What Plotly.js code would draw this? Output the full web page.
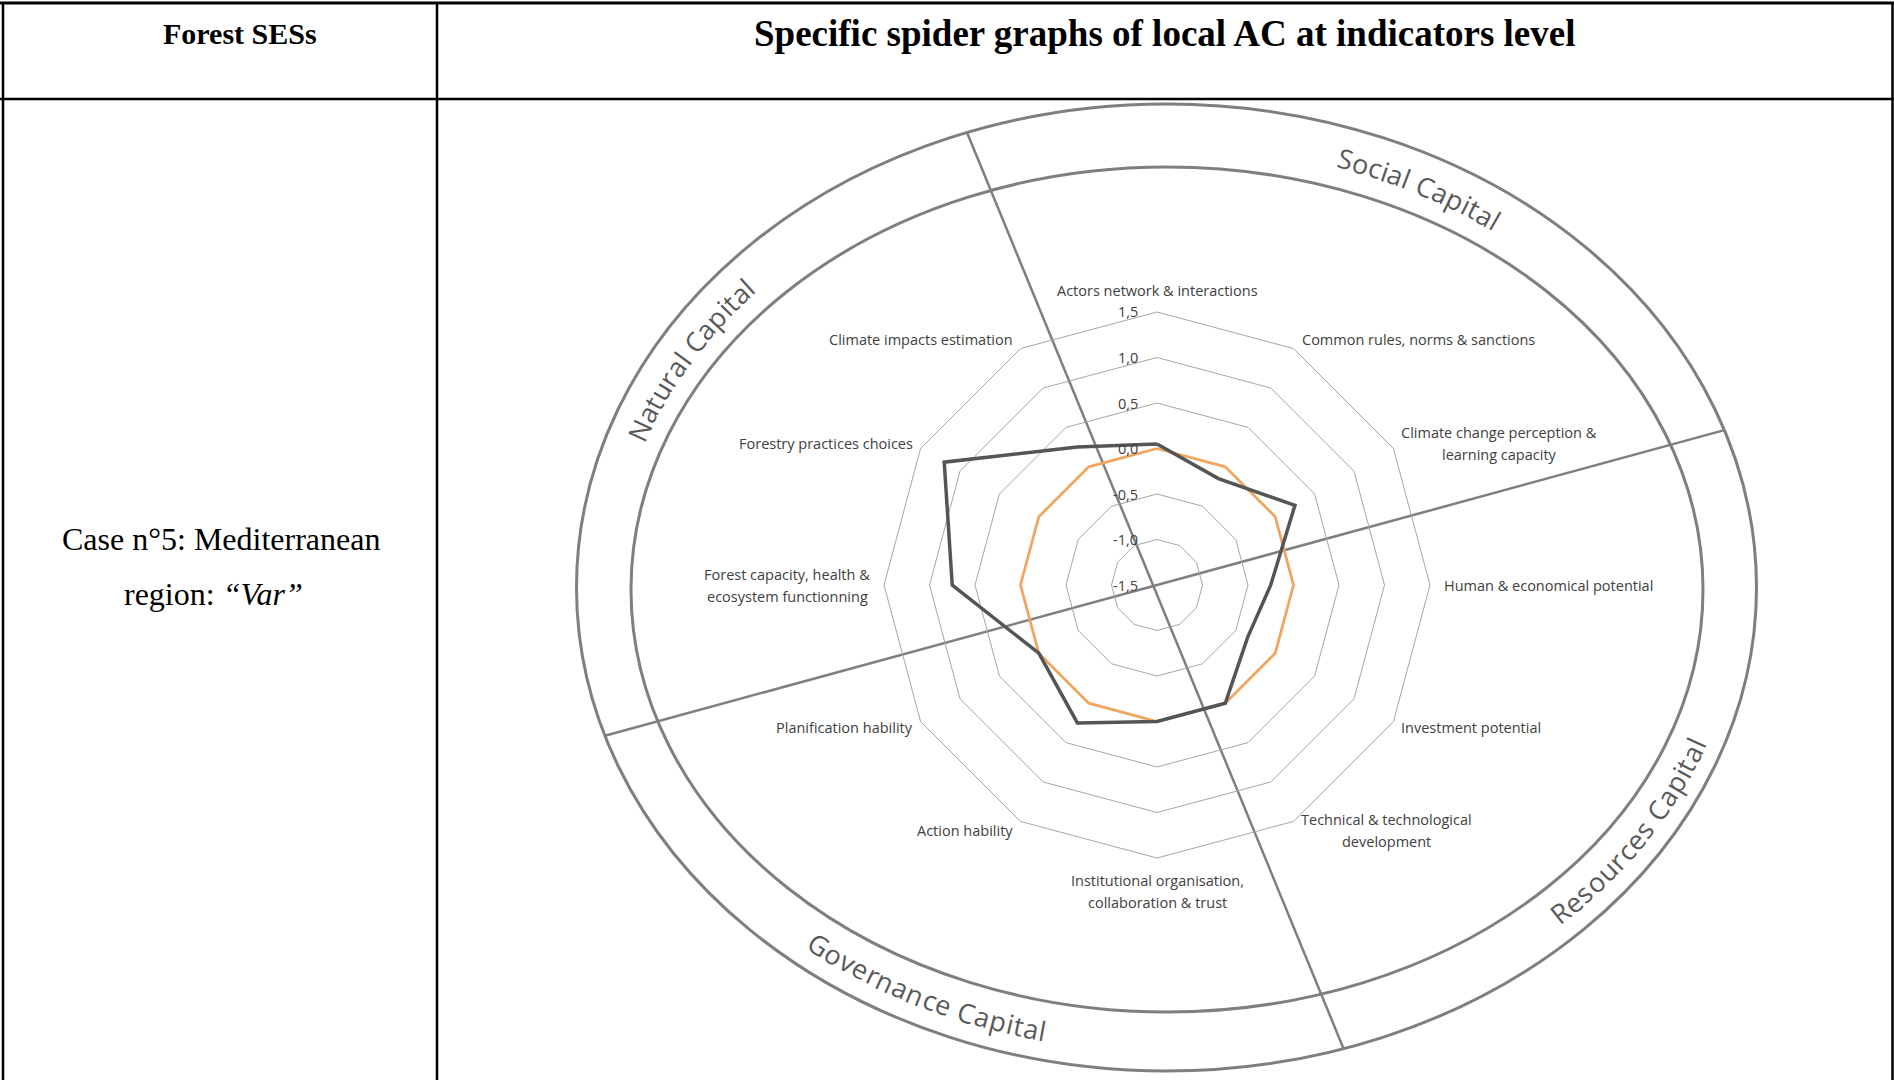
<!DOCTYPE html>
<html><head><meta charset="utf-8">
<script src="https://cdn.plot.ly/plotly-3.0.1.min.js"></script>
<style>html,body{margin:0;padding:0;background:#fff;overflow:hidden}</style>
</head><body><div id="chart" style="width:1894px;height:1080px"></div>
<script>
// ---------------- DATA ----------------
const categories = ["Actors network & interactions","Common rules, norms & sanctions","Climate change perception & learning capacity","Human & economical potential","Investment potential","Technical & technological development","Institutional organisation, collaboration & trust","Action hability","Planification hability","Forest capacity, health & ecosystem functionning","Forestry practices choices","Climate impacts estimation"];
const categoryLines = [["Actors network & interactions"],["Common rules, norms & sanctions"],["Climate change perception &","learning capacity"],["Human & economical potential"],["Investment potential"],["Technical & technological","development"],["Institutional organisation,","collaboration & trust"],["Action hability"],["Planification hability"],["Forest capacity, health &","ecosystem functionning"],["Forestry practices choices"],["Climate impacts estimation"]];
const localAC = [0.05,-0.15,0.25,-0.25,-0.35,0.0,0.0,0.25,0.0,0.75,1.2,0.25];
const referenceAC = [0,0,0,0,0,0,0,0,0,0,0,0];
const radialRange = [-1.5, 1.5];
const radialTicks = [-1.5,-1,-0.5,0,0.5,1,1.5];
const radialTickText = ["-1,5","-1,0","-0,5","0,0","0,5","1,0","1,5"];
const capitals = ["Social Capital","Natural Capital","Resources Capital","Governance Capital"];
const headers = ["Forest SESs","Specific spider graphs of local AC at indicators level"];
const caseLines = ["Case n°5: Mediterranean","region: <i>“Var”</i>"];

// ---------------- GEOMETRY (layout only) ----------------
const W = 1894, H = 1080;
const X = px => px / W, Y = py => 1 - py / H;
const C = {x:1157, y:585}, R = 273;
const outerE = {cx:1166.5, cy:587.5, a:590, b:483.5};
const innerE = {cx:1167, cy:589.5, a:536, b:422.5};
const midE = {cx:(outerE.cx+innerE.cx)/2, cy:(outerE.cy+innerE.cy)/2, a:(outerE.a+innerE.a)/2, b:(outerE.b+innerE.b)/2};
const capitalPlacement = [{t0:63.2, dir:-1},{t0:149, dir:-1},{t0:-33.4, dir:1},{t0:-115.6, dir:1}];
const dividers = [{ox:-4, d:[0.411,1]},{ox:0, d:[1,-0.273]}];

const canvas = document.createElement('canvas');
const ctx = canvas.getContext('2d');
function measure(txt, font){ ctx.font = font; return ctx.measureText(txt).width; }

const shapes = [];
const annotations = [];
const grey = '#7f7f7f';

// table borders
const tbl = {left:3, right:1892.5, top:3, mid:99, col:437};
shapes.push({type:'line', xref:'paper', yref:'paper', x0:X(0), x1:X(W), y0:Y(tbl.top), y1:Y(tbl.top), line:{color:'#000', width:3}});
shapes.push({type:'line', xref:'paper', yref:'paper', x0:X(0), x1:X(W), y0:Y(tbl.mid), y1:Y(tbl.mid), line:{color:'#000', width:2.5}});
shapes.push({type:'line', xref:'paper', yref:'paper', x0:X(tbl.left), x1:X(tbl.left), y0:Y(tbl.top), y1:Y(H), line:{color:'#000', width:2.5}});
shapes.push({type:'line', xref:'paper', yref:'paper', x0:X(tbl.col), x1:X(tbl.col), y0:Y(tbl.top), y1:Y(H), line:{color:'#000', width:2.5}});
shapes.push({type:'line', xref:'paper', yref:'paper', x0:X(tbl.right), x1:X(tbl.right), y0:Y(tbl.top), y1:Y(H), line:{color:'#000', width:2.5}});

// ellipses
[outerE, innerE].forEach(e => shapes.push({type:'circle', xref:'paper', yref:'paper', layer:'below',
  x0:X(e.cx-e.a), x1:X(e.cx+e.a), y0:Y(e.cy+e.b), y1:Y(e.cy-e.b), line:{color:grey, width:3}}));

// divider lines through (about) the spider centre, ending on the outer ellipse
dividers.forEach(dv => {
  const d = dv.d, sx = C.x + dv.ox, sy = C.y;
  const px = sx-outerE.cx, py = sy-outerE.cy, a2 = outerE.a*outerE.a, b2 = outerE.b*outerE.b;
  const A = d[0]*d[0]/a2 + d[1]*d[1]/b2;
  const B = 2*(px*d[0]/a2 + py*d[1]/b2);
  const Cc = px*px/a2 + py*py/b2 - 1;
  const disc = Math.sqrt(B*B-4*A*Cc);
  const t1 = (-B-disc)/(2*A), t2 = (-B+disc)/(2*A);
  shapes.push({type:'line', xref:'paper', yref:'paper', layer:'below',
    x0:X(sx+t1*d[0]), y0:Y(sy+t1*d[1]), x1:X(sx+t2*d[0]), y1:Y(sy+t2*d[1]), line:{color:grey, width:2.5}});
});

// curved capital labels
const capFont = 27, capFamily = 'Open Sans', capSpacing = 0.5;
function ePt(t){ return {x: midE.cx + midE.a*Math.cos(t), y: midE.cy - midE.b*Math.sin(t)}; }
function advance(t, s, dir){
  const step = 0.0005*Math.sign(s)*dir; let acc = 0, cur = t, p = ePt(cur);
  while (acc < Math.abs(s)) { const n = cur+step, q = ePt(n); acc += Math.hypot(q.x-p.x, q.y-p.y); cur = n; p = q; }
  return cur;
}
capitals.forEach((txt, k) => {
  const pl = capitalPlacement[k];
  const font = capFont+'px "'+capFamily+'"';
  const widths = [...txt].map(ch => measure(ch, font) + capSpacing);
  const total = widths.reduce((s,v)=>s+v,0);
  let cum = 0;
  [...txt].forEach((ch, i) => {
    const s = -total/2 + cum + widths[i]/2; cum += widths[i];
    if (ch === ' ') return;
    const t = advance(pl.t0*Math.PI/180, s, pl.dir);
    const p = ePt(t);
    const tx = -midE.a*Math.sin(t)*pl.dir, ty = -midE.b*Math.cos(t)*pl.dir;
    const ang = Math.atan2(ty, tx)*180/Math.PI;
    annotations.push({xref:'paper', yref:'paper', x:X(p.x), y:Y(p.y), text:ch, showarrow:false,
      xanchor:'center', yanchor:'middle', textangle:ang, borderpad:0,
      font:{family:capFamily, size:capFont, color:'#595959'}});
  });
});

// category labels around the radar
const labFont = 14.5, labFamily = 'Open Sans', lineGap = 22;
categories.forEach((cat, i) => {
  const lines = categoryLines[i];
  const phi = i*2*Math.PI/categories.length;
  const sn = Math.sin(phi), cs = Math.cos(phi);
  const vx = C.x + R*sn, vy = C.y - R*cs;
  const bw = Math.max(...lines.map(l => measure(l, labFont+'px "'+labFamily+'"')));
  const bh = 16 + (lines.length-1)*lineGap;
  let bx, by;
  if (Math.abs(sn) < 0.1) { bx = vx; by = cs > 0 ? vy - 14 - bh/2 : vy + 14 + bh/2; }
  else { const pad = Math.abs(sn) > 0.99 ? 14 : 8; bx = vx + Math.sign(sn)*(pad + bw/2); by = vy - 11*cs; }
  lines.forEach((l, k) => {
    annotations.push({xref:'paper', yref:'paper', x:X(bx), y:Y(by + (k-(lines.length-1)/2)*lineGap), text:l,
      showarrow:false, xanchor:'center', yanchor:'middle', font:{family:labFamily, size:labFont, color:'#404040'}});
  });
});

// radial tick labels (left of the vertical radial axis, at each ring level)
radialTicks.forEach((v, k) => {
  const ry = C.y - R*(v - radialRange[0])/(radialRange[1]-radialRange[0]);
  annotations.push({xref:'paper', yref:'paper', x:X(C.x-17), y:Y(ry), text:radialTickText[k], showarrow:false,
    xanchor:'right', yanchor:'middle', font:{family:labFamily, size:14.5, color:'#404040'}});
});

// table texts
annotations.push({xref:'paper', yref:'paper', x:X(240), y:Y(33), text:'<b>'+headers[0]+'</b>', showarrow:false, xanchor:'center', yanchor:'middle', font:{family:'Liberation Serif', size:30, color:'#000'}});
annotations.push({xref:'paper', yref:'paper', x:X(1165), y:Y(33), text:'<b>'+headers[1]+'</b>', showarrow:false, xanchor:'center', yanchor:'middle', font:{family:'Liberation Serif', size:37, color:'#000'}});
annotations.push({xref:'paper', yref:'paper', x:X(221), y:Y(539), text:caseLines[0], showarrow:false, xanchor:'center', yanchor:'middle', font:{family:'Liberation Serif', size:32, color:'#000'}});
annotations.push({xref:'paper', yref:'paper', x:X(213), y:Y(594), text:caseLines[1], showarrow:false, xanchor:'center', yanchor:'middle', font:{family:'Liberation Serif', size:32, color:'#000'}});

// ---------------- TRACES ----------------
const close = arr => arr.concat([arr[0]]);
const traces = [
  {type:'scatterpolar', r:close(referenceAC), theta:close(categories), mode:'lines', line:{color:'#f0a561', width:2.8}, hoverinfo:'skip'},
  {type:'scatterpolar', r:close(localAC), theta:close(categories), mode:'lines+markers', line:{color:'#555555', width:3.5},
   marker:{symbol:'diamond', size:9, color:'#555555'}, hoverinfo:'skip'}
];

const layout = {
  width:W, height:H, margin:{l:0,r:0,t:0,b:0}, paper_bgcolor:'#fff', showlegend:false,
  polar:{
    domain:{x:[X(C.x-R), X(C.x+R)], y:[Y(C.y+R), Y(C.y-R)]},
    bgcolor:'rgba(0,0,0,0)', gridshape:'linear',
    radialaxis:{range:radialRange, tickmode:'array', tickvals:radialTicks, angle:90,
      showline:false, ticks:'', showticklabels:false, gridcolor:'#a6a6a6', gridwidth:1},
    angularaxis:{type:'category', categoryarray:categories, rotation:90, direction:'clockwise',
      showgrid:false, showticklabels:false, ticks:'', showline:true, linecolor:'#a6a6a6', linewidth:1}
  },
  shapes:shapes, annotations:annotations
};
Plotly.newPlot('chart', traces, layout, {staticPlot:true, displayModeBar:false});
</script></body></html>
